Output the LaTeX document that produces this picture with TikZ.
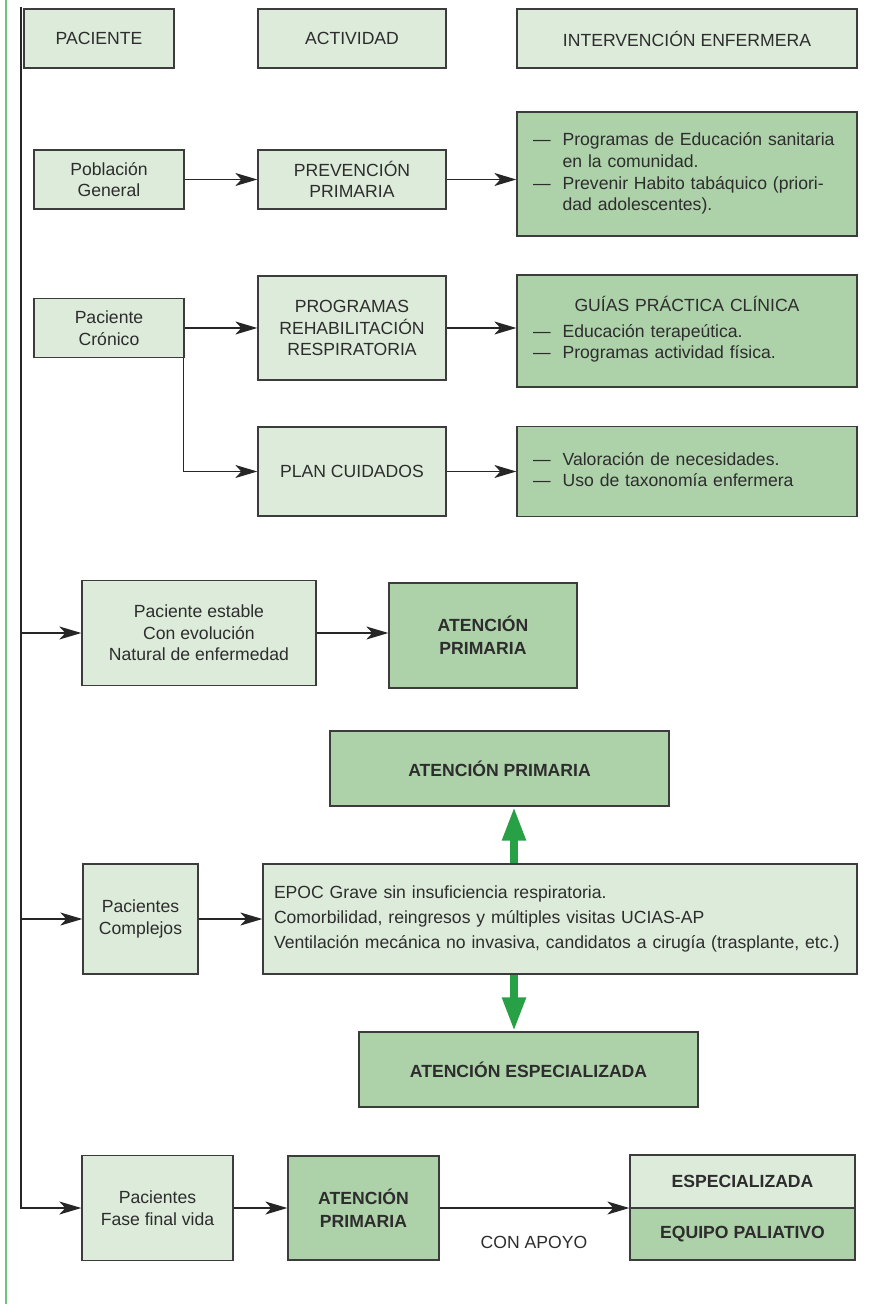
\documentclass[tikz,border=0pt]{standalone}
\usepackage{fontspec}
\setmainfont{Liberation Sans}
\usetikzlibrary{arrows.meta, positioning}
\definecolor{boxlight}{RGB}{221,235,218}
\definecolor{boxdark}{RGB}{173,209,169}
\definecolor{edge}{RGB}{60,60,60}
\definecolor{ink}{RGB}{45,45,45}
\definecolor{arrowgreen}{RGB}{40,160,70}
\definecolor{margingreen}{RGB}{110,195,125}
\newcommand{\boxfont}{\fontsize{8.8}{10.8}\selectfont}
\newcommand{\dashlist}[1]{\begin{tabular}{@{}l@{\hspace{6pt}}l@{}}#1\end{tabular}}
\tikzset{
    box/.style={
        draw=edge,
        line width=0.65pt,
        fill=boxlight,
        inner sep=0pt,
        align=center,
        text=ink
    },
    darkbox/.style={
        box,
        fill=boxdark,
        font=\fontsize{8.8}{11.5}\selectfont\bfseries
    },
    listbox/.style={
        box,
        fill=boxdark,
        inner xsep=8pt,
        text width=154pt,
        align=left
    },
    line/.style={-{Stealth[length=11pt, width=6.5pt, inset=3pt]}, line width=0.7pt, black!85},
    greenline/.style={-{Triangle[length=17pt, width=11pt]}, line width=4pt, arrowgreen},
    every node/.style={font=\boxfont}
}

\begin{document}
\begin{tikzpicture}[x=0.5pt,y=-0.5pt]
\useasboundingbox (0,0) rectangle (868,1304);
\draw[margingreen, line width=1.2pt] (6,0) -- (6,1304);

% Headers
\node[box, minimum width=75pt, minimum height=29.5pt] (hPac) at (99,38.5) {PACIENTE};
\node[box, minimum width=94pt, minimum height=29.5pt] (hAct) at (352,38.5) {ACTIVIDAD};
\node[box, minimum width=170pt, minimum height=29.5pt] (hInt) at (687,38.5) {INTERVENCIÓN ENFERMERA};

% Poblacion general
\node[box, minimum width=75pt, minimum height=29.5pt] (pobl) at (109,179.5) {Población\\General};
\node[box, minimum width=94pt, minimum height=29.5pt] (prev) at (352,179.5) {PREVENCIÓN\\PRIMARIA};
\node[listbox, minimum height=62pt] (educ) at (687,174) {\dashlist{---&Programas de Educación sanitaria\\&en la comunidad.\\---&Prevenir Habito tabáquico (priori-\\&dad adolescentes).}};
\draw[line] (pobl) -- (prev);
\draw[line] (prev) -- (prev -| educ.west);

% Paciente cronico
\node[box, minimum width=75pt, minimum height=29.5pt] (cron) at (109,328) {Paciente\\Crónico};
\node[box, minimum width=94pt, minimum height=52pt] (rehab) at (352,328) {PROGRAMAS\\REHABILITACIÓN\\RESPIRATORIA};
\node[listbox, minimum height=56pt] (guias) at (687,331) {\makebox[154pt]{GUÍAS PRÁCTICA CLÍNICA}\\[4pt]\dashlist{---&Educación terapeútica.\\---&Programas actividad física.}};
\node[box, minimum width=94pt, minimum height=44.5pt] (plan) at (352,471.5) {PLAN CUIDADOS};
\node[listbox, minimum height=45pt] (cuid) at (687,471.5) {\dashlist{---&Valoración de necesidades.\\---&Uso de taxonomía enfermera}};
\draw[line] (cron) -- (rehab);
\draw[line] (rehab) -- (rehab -| guias.west);
\draw[line] ([xshift=-0.5pt]cron.south east) |- (plan);
\draw[line] (plan) -- (cuid);

% Paciente estable
\node[box, minimum width=117pt, minimum height=52.5pt] (estab) at (199,633) {Paciente estable\\Con evolución\\Natural de enfermedad};
\node[darkbox, minimum width=94pt, minimum height=52.5pt] (apA) at (483,635.5) {ATENCIÓN\\PRIMARIA};
\draw[line] (estab) -- (estab -| apA.west);

% Pacientes complejos
\node[darkbox, minimum width=169.5pt, minimum height=37.5pt] (apB) at (499.5,768.5) {ATENCIÓN PRIMARIA};
\node[box, minimum width=57.5pt, minimum height=55pt] (compl) at (140.5,919) {Pacientes\\Complejos};
\node[box, minimum width=297pt, minimum height=55pt, inner xsep=5.5pt, text width=286pt, align=left, font=\fontsize{8.8}{12.3}\selectfont] (epoc) at (560,919) {EPOC Grave sin insuficiencia respiratoria.\\Comorbilidad, reingresos y múltiples visitas UCIAS-AP\\Ventilación mecánica no invasiva, candidatos a cirugía (trasplante, etc.)};
\node[darkbox, minimum width=169.5pt, minimum height=37.5pt] (esp) at (528.5,1069.5) {ATENCIÓN ESPECIALIZADA};
\coordinate (gx) at (514,0);
\draw[line] (compl) -- (epoc);
\draw[greenline] (epoc.north -| gx) -- (apB.south -| gx);
\draw[greenline] (epoc.south -| gx) -- (esp.north -| gx);

% Fase final
\node[box, minimum width=75.5pt, minimum height=52.5pt] (fase) at (157.5,1208) {Pacientes\\Fase final vida};
\node[darkbox, minimum width=75.5pt, minimum height=52pt] (apC) at (363.5,1208) {ATENCIÓN\\PRIMARIA};
\node[darkbox, fill=boxlight, minimum width=112.5pt, minimum height=26.5pt] (espC) at (742.5,1181.5) {ESPECIALIZADA};
\node[darkbox, minimum width=112.5pt, minimum height=26pt] (pal) at (742.5,1234) {EQUIPO PALIATIVO};
\node[text=ink] (apoyo) at (534,1242) {CON APOYO};
\draw[line] (fase) -- (apC);
\draw[line] (apC) -- (apC -| espC.south west);

% Eje pacientes
\coordinate (spine) at (21,7);
\draw[line] (spine) |- (fase);
\draw[line] (spine |- estab) -- (estab);
\draw[line] (spine |- compl) -- (compl);
\end{tikzpicture}
\end{document}
